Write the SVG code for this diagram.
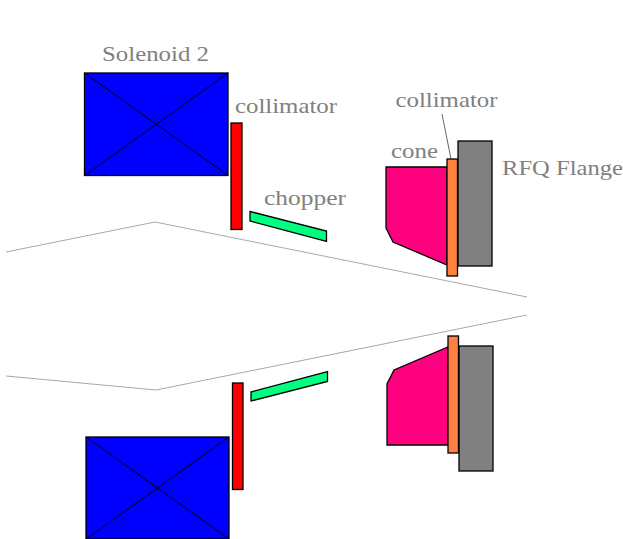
<svg xmlns="http://www.w3.org/2000/svg" width="623" height="539" viewBox="0 0 623 539">
<style>
.s{stroke:#000;stroke-width:1.3;stroke-linejoin:miter}
.x{stroke:#000;stroke-width:1;fill:none}
.b{fill:#0000ff}.r{fill:#ff0000}.g{fill:#00ff80}.m{fill:#ff007f}.o{fill:#ff8040}.f{fill:#808080}
.t{font-family:"Liberation Serif","DejaVu Serif",serif;font-size:21px;fill:#808080}
.beam{fill:none;stroke:#a8a8a8;stroke-width:1}
</style>
<rect width="623" height="539" fill="#fff"/>
<g id="connectors">
<polyline class="beam" points="6,252 155,222 527,297"/>
<polyline class="beam" points="6,376 156,390 527,315"/>
<line x1="442" y1="114" x2="451" y2="159" stroke="#404040" stroke-width="0.8"/>
</g>
<g id="solenoid-top"><rect class="s b" x="84.500" y="73" width="143.500" height="102.500"/><path class="x" d="M84.500 73L228 175.500M228 73L84.500 175.500"/></g>
<g id="solenoid-bottom"><rect class="s b" x="86" y="437" width="143" height="102"/><path class="x" d="M86 437L229 539M229 437L86 539"/></g>
<g id="collimator-top"><rect class="s r" x="231" y="123" width="11" height="106.500"/></g>
<g id="collimator-bottom"><rect class="s r" x="232.500" y="383" width="10.500" height="106.500"/></g>
<g id="chopper-top"><polygon class="s g" points="250,211.500 326.500,231 326.500,241.500 250,221"/></g>
<g id="chopper-bottom"><polygon class="s g" points="251,392 327.500,371.500 327.500,381.500 251,401"/></g>
<g id="flange-top"><rect class="s f" x="458" y="141" width="34" height="125"/></g>
<g id="cone-top"><polygon class="s m" points="386,167 447,167 447,265 393,242 386,228"/></g>
<g id="orange-top"><rect class="s o" x="447" y="159" width="10.500" height="117"/></g>
<g id="flange-bottom"><rect class="s f" x="459" y="346" width="34" height="125"/></g>
<g id="cone-bottom"><polygon class="s m" points="387,445 448,445 448,347 394,370 387,384"/></g>
<g id="orange-bottom"><rect class="s o" x="448" y="336" width="10.500" height="117"/></g>
<g id="labels">
<text class="t" x="102" y="60.500" textLength="107" lengthAdjust="spacingAndGlyphs">Solenoid 2</text>
<text class="t" x="235" y="113" textLength="102" lengthAdjust="spacingAndGlyphs">collimator</text>
<text class="t" x="264" y="204.500" textLength="82" lengthAdjust="spacingAndGlyphs">chopper</text>
<text class="t" x="395.500" y="106.500" textLength="102" lengthAdjust="spacingAndGlyphs">collimator</text>
<text class="t" x="391" y="158" textLength="47" lengthAdjust="spacingAndGlyphs">cone</text>
<text class="t" x="502" y="175" textLength="121" lengthAdjust="spacingAndGlyphs">RFQ Flange</text>
</g>
</svg>
